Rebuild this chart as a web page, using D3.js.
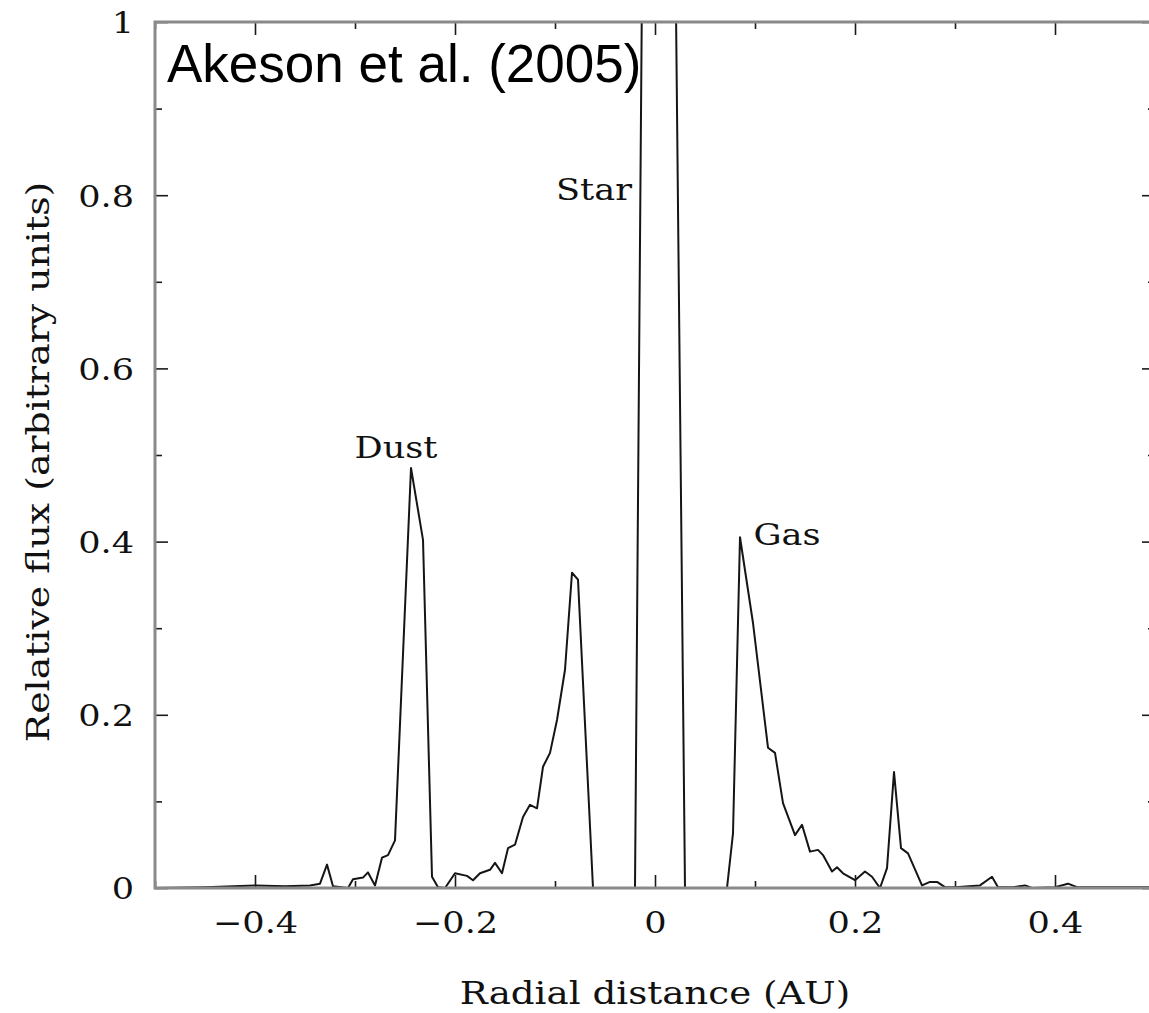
<!DOCTYPE html>
<html>
<head>
<meta charset="utf-8">
<script src="https://cdn.jsdelivr.net/npm/d3@7"></script>
<style>
  html, body { margin: 0; padding: 0; background: #fff; }
  svg { display: block; }
</style>
</head>
<body>
<svg id="chart" width="1149" height="1013"></svg>
<script>
// ---- data (radial distance in AU, relative flux) ----
const radialDistance = [
  -0.500, -0.450, -0.400, -0.370, -0.345, -0.335, -0.328, -0.322, -0.307, -0.302,
  -0.292, -0.287, -0.280, -0.273, -0.267, -0.260, -0.244, -0.232, -0.223, -0.217,
  -0.210, -0.200, -0.188, -0.182, -0.175, -0.165, -0.160, -0.153, -0.147, -0.140,
  -0.132, -0.125, -0.118, -0.112, -0.105, -0.098, -0.090, -0.083, -0.077, -0.062,
  -0.040, -0.020, -0.010, 0.000, 0.010, 0.020, 0.030, 0.050, 0.072, 0.078,
  0.085, 0.098, 0.113, 0.120, 0.128, 0.140, 0.147, 0.155, 0.163, 0.168,
  0.177, 0.182, 0.188, 0.200, 0.210, 0.217, 0.225, 0.232, 0.239, 0.246,
  0.253, 0.267, 0.275, 0.282, 0.290, 0.300, 0.325, 0.337, 0.343, 0.358,
  0.370, 0.377, 0.400, 0.413, 0.422, 0.450, 0.500
];
const relativeFlux = [
  0.000, 0.001, 0.003, 0.002, 0.003, 0.005, 0.027, 0.002, 0.000, 0.010,
  0.012, 0.018, 0.003, 0.035, 0.038, 0.055, 0.485, 0.402, 0.013, 0.001,
  0.000, 0.017, 0.014, 0.009, 0.017, 0.021, 0.029, 0.017, 0.046, 0.050,
  0.082, 0.096, 0.092, 0.140, 0.156, 0.194, 0.252, 0.364, 0.356, 0.000,
  0.000, 0.000, 1.490, 6.000, 6.000, 1.125, 0.000, 0.000, 0.000, 0.063,
  0.405, 0.306, 0.162, 0.156, 0.098, 0.061, 0.073, 0.042, 0.044, 0.038,
  0.019, 0.024, 0.017, 0.009, 0.019, 0.013, 0.000, 0.023, 0.134, 0.046,
  0.040, 0.003, 0.007, 0.007, 0.001, 0.001, 0.003, 0.013, 0.001, 0.001,
  0.003, 0.000, 0.001, 0.005, 0.001, 0.001, 0.001
];
const xMajorTicks = [-0.4, -0.2, 0, 0.2, 0.4];
const xMinorTicks = [-0.5, -0.3, -0.1, 0.1, 0.3, 0.5];
const yMajorTicks = [0, 0.2, 0.4, 0.6, 0.8, 1];
const yMinorTicks = [0.1, 0.3, 0.5, 0.7, 0.9];
const annotationLabels = ["Star", "Dust", "Gas"];
const annotationX = [-0.061, -0.259, 0.132];
const annotationY = [0.795, 0.496, 0.396];
const titleText = "Akeson et al. (2005)";
const xTitle = "Radial distance (AU)";
const yTitle = "Relative flux (arbitrary units)";

// ---- layout ----
const svg = d3.select("#chart");
const pL = 155, pR = 1155, pT = 22, pB = 888;
const x = d3.scaleLinear().domain([-0.5, 0.5]).range([pL, pR]);
const y = d3.scaleLinear().domain([0, 1]).range([pB, pT]);
const serif = "'DejaVu Serif', 'Liberation Serif', serif";

function stretch(sel, widen) {
  sel.each(function () {
    const w = this.getComputedTextLength();
    d3.select(this).attr("textLength", w * widen).attr("lengthAdjust", "spacingAndGlyphs");
  });
}

svg.append("defs").append("clipPath").attr("id", "plotclip")
  .append("rect").attr("x", pL).attr("y", pT).attr("width", pR - pL).attr("height", pB - pT);

// ---- data line ----
const pts = radialDistance.map((d, i) => [d, relativeFlux[i]]);
svg.append("path")
  .datum(pts)
  .attr("clip-path", "url(#plotclip)")
  .attr("fill", "none")
  .attr("stroke", "#151515")
  .attr("stroke-width", 2)
  .attr("stroke-linejoin", "round")
  .attr("d", d3.line().x(d => x(d[0])).y(d => y(d[1])));

// ---- ticks (inward on all four sides) ----
function tickGroup(axis, transform) {
  const g = svg.append("g").attr("transform", transform).call(axis);
  g.select(".domain").remove();
  g.selectAll(".tick line").attr("stroke", "#1a1a1a").attr("stroke-width", 1.6);
  return g;
}
const maj = 13, mnr = 7;
// bottom
const gb = tickGroup(d3.axisBottom(x).tickValues(xMajorTicks).tickSizeInner(-maj).tickSizeOuter(0).tickPadding(24)
  .tickFormat(d => d === 0 ? "0" : d3.format(".1f")(d).replace("-", "\u2212")), `translate(0,${pB})`);
gb.selectAll("text").attr("font-family", serif).attr("font-size", 30).attr("fill", "#111").attr("dy", "0.71em");
stretch(gb.selectAll("text"), 1.17);
tickGroup(d3.axisBottom(x).tickValues(xMinorTicks).tickSizeInner(-mnr).tickSizeOuter(0).tickFormat(""), `translate(0,${pB})`);
// top
tickGroup(d3.axisTop(x).tickValues(xMajorTicks).tickSizeInner(-maj).tickSizeOuter(0).tickFormat(""), `translate(0,${pT})`);
tickGroup(d3.axisTop(x).tickValues(xMinorTicks).tickSizeInner(-mnr).tickSizeOuter(0).tickFormat(""), `translate(0,${pT})`);
// left
const gl = tickGroup(d3.axisLeft(y).tickValues(yMajorTicks).tickSizeInner(-maj).tickSizeOuter(0).tickPadding(21)
  .tickFormat(d => (d === 0 || d === 1) ? String(d) : d3.format(".1f")(d)), `translate(${pL},0)`);
gl.selectAll("text").attr("font-family", serif).attr("font-size", 30).attr("fill", "#111").attr("dy", "0.36em");
stretch(gl.selectAll("text"), 1.17);
tickGroup(d3.axisLeft(y).tickValues(yMinorTicks).tickSizeInner(-mnr).tickSizeOuter(0).tickFormat(""), `translate(${pL},0)`);
// right
tickGroup(d3.axisRight(y).tickValues(yMajorTicks).tickSizeInner(-maj).tickSizeOuter(0).tickFormat(""), `translate(${pR},0)`);
tickGroup(d3.axisRight(y).tickValues(yMinorTicks).tickSizeInner(-mnr).tickSizeOuter(0).tickFormat(""), `translate(${pR},0)`);

// ---- frame ----
svg.append("rect")
  .attr("x", pL).attr("y", pT).attr("width", pR - pL).attr("height", pB - pT)
  .attr("fill", "none").attr("stroke", "#8a8a8a").attr("stroke-width", 3);

// ---- axis titles ----
const xt = svg.append("text")
  .attr("x", x(0)).attr("y", 1004).attr("text-anchor", "middle")
  .attr("font-family", serif).attr("font-size", 31).attr("fill", "#111")
  .text(xTitle);
stretch(xt, 1.2);
const yt = svg.append("text")
  .attr("transform", `translate(49,462) rotate(-90)`).attr("text-anchor", "middle")
  .attr("font-family", serif).attr("font-size", 31).attr("fill", "#111")
  .text(yTitle);
stretch(yt, 1.22);

// ---- annotations ----
const ann = svg.append("g").selectAll("text").data(annotationLabels).join("text")
  .attr("x", (d, i) => x(annotationX[i])).attr("y", (d, i) => y(annotationY[i]))
  .attr("text-anchor", "middle")
  .attr("font-family", serif).attr("font-size", 30).attr("fill", "#111")
  .text(d => d);
stretch(ann, 1.17);

// ---- title ----
svg.append("text")
  .attr("x", 167).attr("y", 82)
  .attr("font-family", "'Liberation Sans', Arial, sans-serif").attr("font-size", 53).attr("fill", "#000")
  .text(titleText);
</script>
</body>
</html>
